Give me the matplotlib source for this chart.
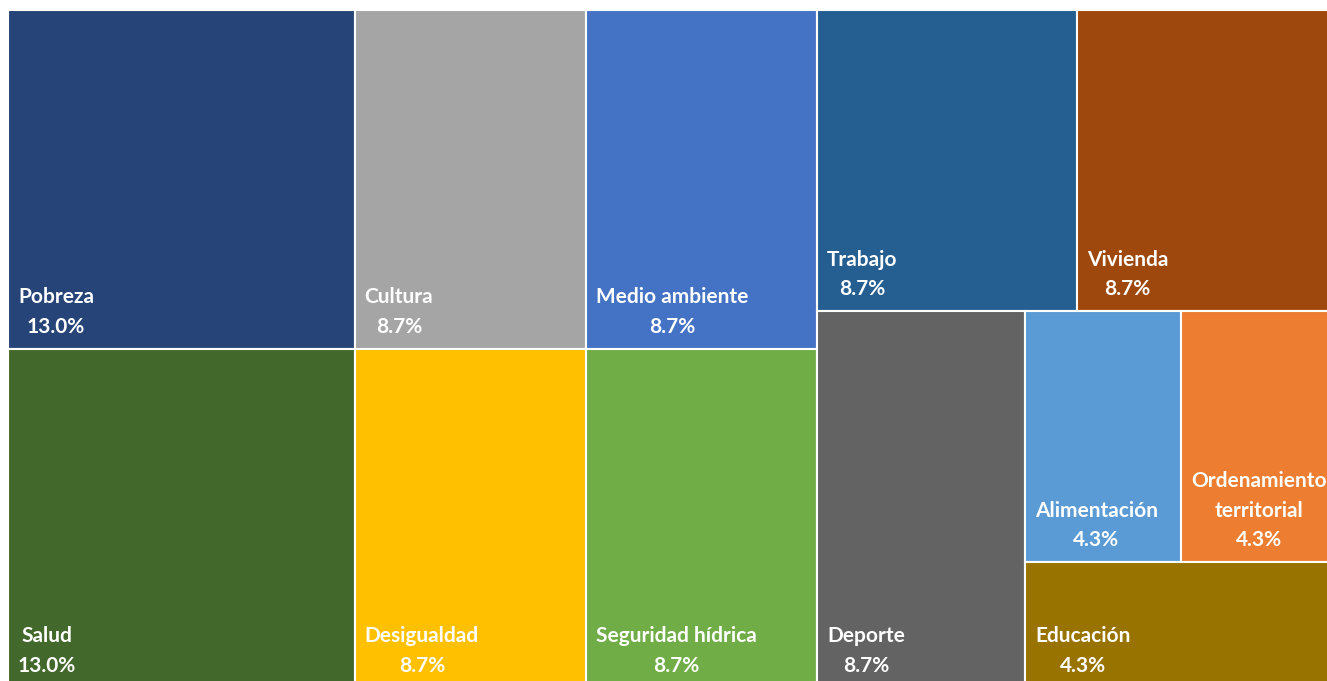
import numpy as np
from matplotlib import pyplot as plt
from matplotlib.patches import Rectangle

# data
NAMES = ["Pobreza", "Salud", "Cultura", "Desigualdad", "Medio ambiente",
         "Seguridad hídrica", "Trabajo", "Vivienda", "Deporte",
         "Alimentación", "Ordenamiento\nterritorial", "Educación"]
COUNTS = [3, 3, 2, 2, 2, 2, 2, 2, 2, 1, 1, 1]
COLORS = ["#264478", "#43682B", "#A5A5A5", "#FFC000", "#4472C4",
          "#70AD47", "#255E91", "#9E480E", "#636363",
          "#5B9BD5", "#ED7D31", "#997300"]

# plot area in pixels (the chart runs past the right and bottom of the picture)
X0, Y0, WIDTH, HEIGHT = 8, 10, 1329, 678


# functions
def worst(row, side):
    s = sum(row)
    return max(max(side * side * r / (s * s), s * s / (side * side * r)) for r in row)


def squarify(values, x, y, dx, dy):
    total = sum(values)
    vals = [v * dx * dy / total for v in values]
    rects = []
    while vals:
        side = min(dx, dy)
        row = [vals[0]]
        i = 1
        while i < len(vals) and worst(row + [vals[i]], side) <= worst(row, side):
            row.append(vals[i])
            i += 1
        vals = vals[i:]
        s = sum(row)
        if dx >= dy:
            w = s / dy
            yy = y
            for r in row:
                h = r / w
                rects.append((x, yy, w, h))
                yy += h
            x += w
            dx -= w
        else:
            h = s / dx
            xx = x
            for r in row:
                w = r / h
                rects.append((xx, y, w, h))
                xx += w
            y += h
            dy -= h
    return rects


# main
fig = plt.figure(figsize=(13.27, 6.81), dpi=100, facecolor="white")
ax = fig.add_axes([0, 0, 1, 1])
ax.set_xlim(0, 1327)
ax.set_ylim(681, 0)
ax.axis("off")

total = sum(COUNTS)
rects = squarify(COUNTS, X0, Y0, WIDTH, HEIGHT)
for (x, y, w, h), name, cnt, col in zip(rects, NAMES, COUNTS, COLORS):
    ax.add_patch(Rectangle((x, y), w, h, facecolor=col, edgecolor="white", linewidth=1.5))
    ax.text(x + 10, y + h - 12, name + "\n" + "{:.1f}%".format(cnt / total * 100),
            ha="left", va="bottom", multialignment="center", color="white",
            fontsize=15, fontweight="bold", family=["Lato", "DejaVu Sans"],
            linespacing=1.6, clip_on=True)

fig.savefig("out.png", dpi=100, facecolor="white")
